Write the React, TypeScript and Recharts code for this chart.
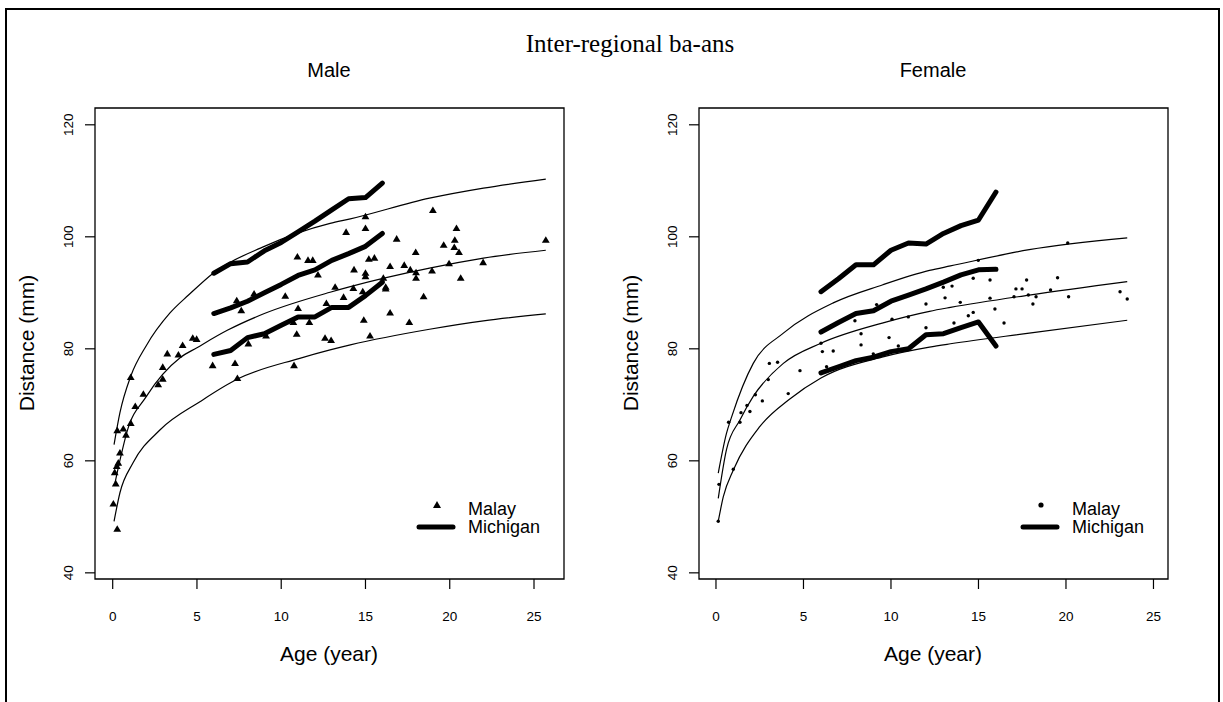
import React from 'react'
import {
  ComposedChart,
  Line,
  Scatter,
  XAxis,
  YAxis,
  ReferenceArea,
} from 'recharts'

const FONT = '"Liberation Sans", Arial, sans-serif'
const SERIF = '"Liberation Serif", "Times New Roman", serif'

const X_TICKS = [0, 5, 10, 15, 20, 25]
const Y_TICKS = [40, 60, 80, 100, 120]
const Y_DOMAIN: [number, number] = [38.9, 123.0]

// Male: Malay observations (age, distance)
const maleMalay: [number, number][] = [
  [0.04, 52.3], [0.27, 47.8], [0.18, 55.9], [0.12, 57.9], [0.24, 59.0], [0.33, 59.6],
  [0.43, 61.4], [0.79, 64.6], [0.63, 65.7], [0.27, 65.4], [1.07, 66.7], [1.34, 69.7],
  [1.82, 71.9], [2.7, 73.6], [2.97, 74.6], [1.07, 74.9], [2.97, 76.7], [3.24, 79.1],
  [3.9, 78.9], [4.15, 80.6], [4.75, 81.9], [4.98, 81.7], [5.93, 77.0], [7.26, 77.4],
  [7.4, 74.7], [10.76, 77.0], [8.05, 80.9], [9.1, 82.3], [10.92, 82.6], [12.6, 81.9],
  [12.96, 81.5], [10.72, 84.7], [11.67, 84.7], [7.63, 86.8], [7.36, 88.6], [8.39, 89.8],
  [10.24, 89.4], [11.0, 87.2], [12.68, 88.1], [13.7, 89.2], [13.2, 91.0], [12.18, 93.2],
  [10.96, 96.4], [11.59, 95.8], [11.87, 95.8], [13.85, 100.8], [15.0, 103.6], [19.0, 104.7],
  [15.0, 101.5], [20.4, 101.5], [16.85, 99.6], [20.3, 99.4], [19.64, 98.5], [20.27, 98.1],
  [25.7, 99.4], [17.98, 97.2], [20.55, 97.2], [15.2, 96.0], [15.53, 96.2], [14.32, 94.1],
  [16.46, 94.7], [17.3, 94.9], [15.0, 93.5], [15.0, 92.9], [17.66, 94.1], [18.0, 93.6],
  [18.95, 93.9], [19.96, 95.2], [21.98, 95.4], [18.0, 92.6], [16.06, 92.6], [20.65, 92.6],
  [14.28, 90.8], [14.84, 90.2], [16.2, 91.0], [16.2, 90.7], [18.45, 89.3], [16.46, 86.4],
  [14.9, 85.1], [17.6, 84.7], [15.27, 82.3],
]

// Male: fitted reference curves
const maleUpper: [number, number][] = [
  [0.08, 62.9], [0.43, 68.6], [1.07, 75.1], [2.0, 80.6], [3.4, 86.4], [4.5, 89.6], [6, 93.6],
  [9, 98.3], [12.9, 102.4], [14.1, 103.2], [18.8, 106.9], [22, 108.7], [25.7, 110.3],
]
const maleMiddle: [number, number][] = [
  [0.14, 56.1], [0.5, 61.0], [0.83, 65.0], [2.0, 71.5], [4, 78.4], [5, 80.2], [6.8, 83.3],
  [9, 86.3], [12.9, 90.1], [14.1, 91.1], [18.8, 94.4], [22, 96.2], [25.7, 97.6],
]
const maleLower: [number, number][] = [
  [0.08, 49.2], [0.43, 54.3], [1.2, 59.6], [2.8, 65.5], [5.2, 70.6], [7.4, 74.6], [11.1, 78.3],
  [12.9, 79.8], [14.1, 80.7], [18.8, 83.5], [22, 85.0], [25.7, 86.25],
]

// Michigan means, ages 6..16
const michAges = [6, 7, 8, 9, 10, 11, 12, 13, 14, 15, 16]
const maleMichHigh = [93.5, 95.2, 95.5, 97.5, 99.0, 100.9, 102.8, 104.8, 106.8, 107.0, 109.6]
const maleMichMid = [86.3, 87.3, 88.5, 90.0, 91.5, 93.1, 94.1, 95.8, 97.0, 98.3, 100.6]
const maleMichLow = [79.0, 79.7, 82.0, 82.7, 84.2, 85.7, 85.7, 87.4, 87.4, 89.5, 91.9]

// Female: Malay observations
const femaleMalay: [number, number][] = [
  [12.99, 91.0], [13.09, 89.1], [12.0, 88.0], [9.18, 87.9], [12.0, 83.75], [10.06, 85.3],
  [10.99, 85.7], [7.94, 85.0], [8.29, 82.7], [9.89, 82.0], [8.29, 80.7], [10.42, 80.5],
  [8.99, 79.1], [6.0, 81.0], [6.08, 79.5], [6.7, 79.6], [6.32, 76.8], [4.8, 76.1],
  [3.05, 77.4], [3.52, 77.6], [2.99, 74.5], [2.25, 71.8], [4.13, 72.0], [2.65, 70.7],
  [1.77, 69.9], [1.43, 68.6], [1.94, 68.8], [0.72, 66.9], [1.37, 66.9], [0.17, 55.8],
  [0.99, 58.5], [0.13, 49.2], [20.1, 98.9], [14.99, 95.8], [14.7, 92.6], [15.66, 92.3],
  [17.75, 92.3], [19.52, 92.7], [13.49, 91.2], [17.14, 90.7], [17.49, 90.7], [19.12, 90.5],
  [13.96, 88.3], [15.66, 89.05], [17.03, 89.3], [17.85, 89.6], [18.29, 89.3], [20.15, 89.3],
  [18.11, 88.0], [23.09, 90.2], [23.5, 88.9], [15.94, 87.1], [14.7, 86.5], [14.42, 85.9],
  [13.6, 84.6], [16.46, 84.6],
]

const femaleUpper: [number, number][] = [
  [0.13, 57.8], [0.6, 64.9], [0.9, 67.9], [2.13, 77.4], [3.85, 82.8], [6.7, 88.2],
  [9.5, 91.4], [12.2, 94.0], [13.4, 94.8], [17.9, 97.7], [23.5, 99.8],
]
const femaleMiddle: [number, number][] = [
  [0.13, 53.3], [0.6, 62.0], [1.37, 67.3], [2.13, 71.5], [3.85, 77.4], [6, 81.0],
  [9.5, 84.6], [12.2, 86.7], [13.4, 87.4], [17.9, 89.6], [23.5, 92.0],
]
const femaleLower: [number, number][] = [
  [0.13, 49.2], [0.42, 53.6], [1.0, 58.4], [2.5, 66.1], [4.2, 71.0], [6, 74.8],
  [9.6, 78.6], [12.2, 80.3], [13.4, 80.9], [17.9, 82.8], [23.5, 85.1],
]

const femaleMichHigh = [90.2, 92.5, 95.0, 95.0, 97.6, 98.9, 98.7, 100.6, 102.0, 103.0, 108.0]
const femaleMichMid = [83.0, 84.7, 86.3, 86.8, 88.5, 89.6, 90.7, 91.9, 93.2, 94.1, 94.2]
const femaleMichLow = [75.7, 76.8, 77.9, 78.5, 79.5, 80.0, 82.5, 82.7, 83.8, 84.8, 80.5]

const pts = (arr: [number, number][]) => arr.map(([a, v]) => ({ a, v }))
const mich = (vals: number[]) => michAges.map((a, i) => ({ a, v: vals[i] }))

const PLOT_TOP = 108
const PLOT_BOTTOM = 579

const Triangle = (p: any) => {
  const { cx, cy } = p
  if (cx == null || cy == null) return <g />
  return (
    <polygon
      points={`${cx - 3.9},${cy + 2.6} ${cx + 3.9},${cy + 2.6} ${cx},${cy - 4}`}
      fill="#000"
    />
  )
}

const Dot = (p: any) => {
  const { cx, cy } = p
  if (cx == null || cy == null) return <g />
  return <circle cx={cx} cy={cy} r={1.7} fill="#000" />
}

interface PanelProps {
  plotLeft: number
  plotRight: number
  xDomain: [number, number]
  malay: [number, number][]
  curves: [number, number][][]
  michigan: number[][]
  shape: (p: any) => React.ReactElement
}

function Panel({ plotLeft, plotRight, xDomain, malay, curves, michigan, shape }: PanelProps) {
  const xTick = (p: any) => (
    <text x={p.x} y={621} textAnchor="middle" fontFamily={FONT} fontSize={13.5} fill="#000">
      {p.payload.value}
    </text>
  )
  const bx = plotLeft - 22
  const yTick = (p: any) => (
    <text
      x={bx}
      y={p.y}
      transform={`rotate(-90 ${bx} ${p.y})`}
      textAnchor="middle"
      fontFamily={FONT}
      fontSize={13.5}
      fill="#000"
    >
      {p.payload.value}
    </text>
  )
  return (
    <div style={{ position: 'absolute', left: 0, top: 0 }}>
      <ComposedChart
        width={1223}
        height={702}
        margin={{ top: PLOT_TOP, right: 1223 - plotRight, bottom: 702 - PLOT_BOTTOM - 40, left: plotLeft - 60 }}
      >
        <XAxis
          type="number"
          dataKey="a"
          domain={xDomain}
          ticks={X_TICKS}
          allowDataOverflow
          height={40}
          axisLine={false}
          tickSize={10}
          tickLine={{ stroke: '#000', strokeWidth: 1.2 }}
          tick={xTick}
        />
        <YAxis
          type="number"
          dataKey="v"
          domain={Y_DOMAIN}
          ticks={Y_TICKS}
          allowDataOverflow
          width={60}
          axisLine={false}
          tickSize={10}
          tickLine={{ stroke: '#000', strokeWidth: 1.2 }}
          tick={yTick}
        />
        {curves.map((c, i) => (
          <Line
            key={`c${i}`}
            data={pts(c)}
            dataKey="v"
            type="monotone"
            stroke="#000"
            strokeWidth={1.2}
            dot={false}
            activeDot={false}
            isAnimationActive={false}
          />
        ))}
        {michigan.map((m, i) => (
          <Line
            key={`m${i}`}
            data={mich(m)}
            dataKey="v"
            type="linear"
            stroke="#000"
            strokeWidth={5}
            strokeLinecap="round"
            strokeLinejoin="round"
            dot={false}
            activeDot={false}
            isAnimationActive={false}
          />
        ))}
        <Scatter data={pts(malay)} dataKey="v" shape={shape} isAnimationActive={false} />
        <ReferenceArea
          x1={xDomain[0]}
          x2={xDomain[1]}
          y1={Y_DOMAIN[0]}
          y2={Y_DOMAIN[1]}
          fill="none"
          stroke="#000"
          strokeWidth={1.3}
          ifOverflow="visible"
        />
      </ComposedChart>
    </div>
  )
}

function Legend({ x0, marker }: { x0: number; marker: 'triangle' | 'dot' }) {
  return (
    <g fontFamily={FONT} fontSize={18} fill="#000">
      {marker === 'triangle' ? (
        <polygon points={`${x0 + 19},${508} ${x0 + 27},${508} ${x0 + 23},${501}`} fill="#000" />
      ) : (
        <circle cx={x0 + 23} cy={505} r={2.6} fill="#000" />
      )}
      <text x={x0 + 54} y={515}>Malay</text>
      <line x1={x0 + 5} x2={x0 + 39} y1={527} y2={527} stroke="#000" strokeWidth={5} strokeLinecap="round" />
      <text x={x0 + 54} y={533}>Michigan</text>
    </g>
  )
}

export default function App() {
  return (
    <div style={{ position: 'absolute', left: 0, top: 0, width: 1223, height: 702, background: '#fff', overflow: 'hidden' }}>
      <div style={{ position: 'absolute', left: 5, top: 8, width: 1211, height: 720, border: '2px solid #000' }} />
      <Panel
        plotLeft={95}
        plotRight={564}
        xDomain={[-1.05, 26.78]}
        malay={maleMalay}
        curves={[maleUpper, maleMiddle, maleLower]}
        michigan={[maleMichHigh, maleMichMid, maleMichLow]}
        shape={Triangle}
      />
      <Panel
        plotLeft={699}
        plotRight={1168}
        xDomain={[-0.97, 25.83]}
        malay={femaleMalay}
        curves={[femaleUpper, femaleMiddle, femaleLower]}
        michigan={[femaleMichHigh, femaleMichMid, femaleMichLow]}
        shape={Dot}
      />
      <svg width={1223} height={702} style={{ position: 'absolute', left: 0, top: 0, pointerEvents: 'none' }}>
        <text x={630} y={52} textAnchor="middle" fontFamily={SERIF} fontSize={25} fill="#000">
          Inter-regional ba-ans
        </text>
        <text x={329} y={77} textAnchor="middle" fontFamily={FONT} fontSize={20} fill="#000">Male</text>
        <text x={933} y={77} textAnchor="middle" fontFamily={FONT} fontSize={20} fill="#000">Female</text>
        <text x={329} y={661} textAnchor="middle" fontFamily={FONT} fontSize={21} fill="#000">Age (year)</text>
        <text x={933} y={661} textAnchor="middle" fontFamily={FONT} fontSize={21} fill="#000">Age (year)</text>
        <text x={34} y={343} transform="rotate(-90 34 343)" textAnchor="middle" fontFamily={FONT} fontSize={21} fill="#000">
          Distance (mm)
        </text>
        <text x={638} y={343} transform="rotate(-90 638 343)" textAnchor="middle" fontFamily={FONT} fontSize={21} fill="#000">
          Distance (mm)
        </text>
        <Legend x0={414} marker="triangle" />
        <Legend x0={1018} marker="dot" />
      </svg>
    </div>
  )
}
